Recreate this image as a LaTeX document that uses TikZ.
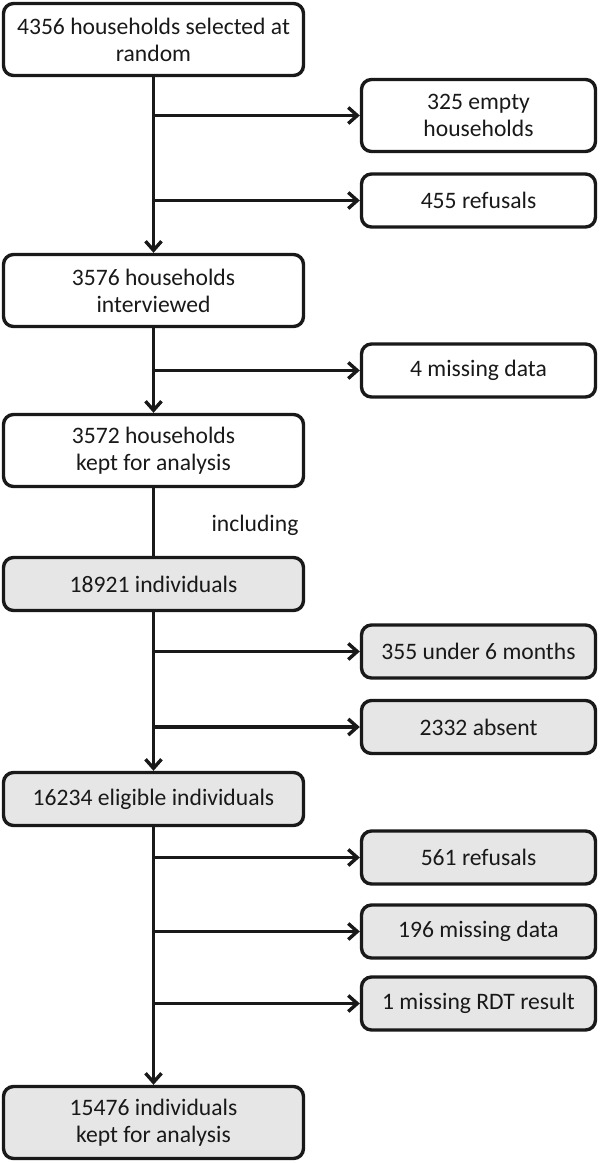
\documentclass[tikz,border=0pt]{standalone}
\usepackage{fontspec}
\setmainfont{Carlito}
\usetikzlibrary{arrows.meta,positioning}
\definecolor{boxgray}{RGB}{230,230,230}
\definecolor{inkgray}{RGB}{25,25,25}
\tikzset{
	flowbox/.style={draw=inkgray,line width=1.7pt,rounded corners=5pt,align=center,inner sep=2pt,text=inkgray,font=\fontsize{11.8}{13.5}\selectfont},
	leftbox/.style={flowbox,minimum width=150pt},
	rightbox/.style={flowbox,minimum width=117pt,minimum height=26.5pt},
	tallbox/.style={minimum height=36pt},
	flatbox/.style={minimum height=26.5pt},
	grey/.style={fill=boxgray},
	link/.style={draw=inkgray,line width=1.7pt},
	flow/.style={link,-{Straight Barb[length=4.5pt,width=8pt,line width=1.7pt]}}
}
\begin{document}
\begin{tikzpicture}[x=0.5pt,y=-0.5pt]
	\useasboundingbox (0,0) rectangle (600,1163);
	% households
	\node[leftbox,tallbox] (hhsel) at (153.5,39.5) {4356 households selected at\\random};
	\node[rightbox,tallbox] (hhempty) at (478.5,115.5) {325 empty\\households};
	\node[rightbox] (hhref) at (478.5,200.5) {455 refusals};
	\node[leftbox,tallbox] (hhint) at (153.5,290.5) {3576 households\\interviewed};
	\node[rightbox] (hhmiss) at (478.5,370.5) {4 missing data};
	\node[leftbox,tallbox] (hhkept) at (153.5,450.5) {3572 households\\kept for analysis};
	\node[text=inkgray,font=\fontsize{11.8}{13.5}\selectfont] (incl) at (255,525) {including};
	% individuals
	\node[leftbox,flatbox,grey] (indiv) at (153.5,584) {18921 individuals};
	\node[rightbox,grey] (under) at (478.5,651.5) {355 under 6 months};
	\node[rightbox,grey] (absent) at (478.5,727) {2332 absent};
	\node[leftbox,flatbox,grey] (elig) at (153.5,799) {16234 eligible individuals};
	\node[rightbox,grey] (indref) at (478.5,857.5) {561 refusals};
	\node[rightbox,grey] (indmiss) at (478.5,931.5) {196 missing data};
	\node[rightbox,grey] (rdt) at (478.5,1003.5) {1 missing RDT result};
	\node[leftbox,tallbox,grey] (indkept) at (153.5,1122.5) {15476 individuals\\kept for analysis};

	\draw[flow] (hhsel) -- (hhint);
	\draw[flow] (hhint) -- (hhkept);
	\draw[link] (hhkept) -- (indiv);
	\draw[flow] (indiv) -- (elig);
	\draw[flow] (elig) -- (indkept);
	\foreach \src/\dst in {hhsel/hhempty,hhsel/hhref,hhint/hhmiss,indiv/under,indiv/absent,elig/indref,elig/indmiss,elig/rdt}
	{
	\draw[flow] (\src.south |- \dst.west) -- (\dst.west);
	}
\end{tikzpicture}
\end{document}
